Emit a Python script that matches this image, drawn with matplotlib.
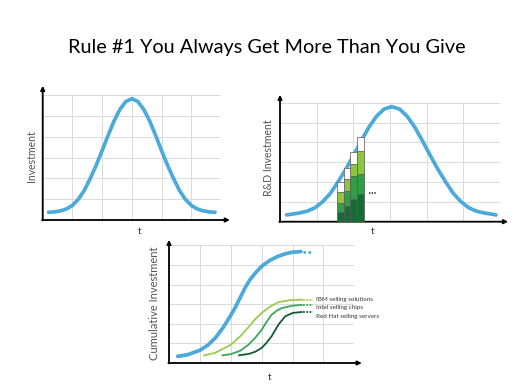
import matplotlib
matplotlib.use("Agg")
import matplotlib.pyplot as plt

W, H = 520, 390

# ---------------- data ----------------
title = "Rule #1 You Always Get More Than You Give"

# Panel 1: investment bell curve
x1 = [0.2, 0.4, 0.6, 0.8, 1.0, 1.2, 1.4, 1.6, 1.8, 2.0, 2.2, 2.4, 2.6, 2.8, 3.0,
      3.2, 3.4, 3.6, 3.8, 4.0, 4.2, 4.4, 4.6, 4.8, 5.0, 5.2, 5.4, 5.6, 5.8]
y1 = [0.37, 0.39, 0.44, 0.53, 0.70, 1.00, 1.42, 2.00, 2.63, 3.33, 4.06, 4.75, 5.31, 5.69, 5.82,
      5.69, 5.31, 4.75, 4.06, 3.33, 2.63, 2.00, 1.42, 1.00, 0.70, 0.53, 0.44, 0.39, 0.37]

# Panel 2: R&D investment bell curve + stacked bars
x2 = [0.18, 0.32, 0.53, 0.74, 0.95, 1.16, 1.37, 1.58, 1.79, 2.00, 2.21, 2.42, 2.63, 2.84, 3.05,
      3.26, 3.47, 3.68, 3.89, 4.10, 4.31, 4.52, 4.73, 4.94, 5.15, 5.36, 5.57, 5.78, 5.89]
y2 = [0.34, 0.38, 0.44, 0.53, 0.70, 1.00, 1.42, 2.00, 2.63, 3.33, 4.06, 4.75, 5.31, 5.68, 5.80,
      5.68, 5.31, 4.75, 4.06, 3.33, 2.63, 2.00, 1.42, 1.00, 0.70, 0.53, 0.44, 0.38, 0.34]
bar_x = [1.65, 1.83, 2.01, 2.19]
seg_dark = [0.50, 0.81, 1.15, 1.40]
seg_mid = [0.42, 0.76, 1.17, 1.01]
seg_light = [0.56, 0.59, 0.59, 1.14]
seg_white = [0.50, 0.55, 0.59, 0.74]
more_x = [2.44, 2.62]
more_y = [1.43, 1.43]

# Panel 3: cumulative investment
x3_total = [0.28, 0.6, 1.0, 1.25, 1.5, 1.75, 2.0, 2.15, 2.3, 2.45, 2.6, 2.8, 3.0, 3.25, 3.5, 3.75, 4.0, 4.27]
y3_total = [0.34, 0.42, 0.65, 0.9, 1.28, 1.8, 2.43, 2.85, 3.32, 3.8, 4.2, 4.6, 4.93, 5.22, 5.42, 5.56, 5.65, 5.68]
x3_ibm = [1.14, 1.5, 2.0, 2.3, 2.57, 2.8, 3.0, 3.25, 3.54, 3.9, 4.29]
y3_ibm = [0.39, 0.52, 0.93, 1.35, 1.82, 2.25, 2.55, 2.85, 3.10, 3.20, 3.23]
x3_intel = [1.73, 2.0, 2.3, 2.57, 2.8, 3.0, 3.15, 3.32, 3.5, 3.65, 4.0, 4.29]
y3_intel = [0.39, 0.45, 0.62, 0.93, 1.30, 1.70, 2.08, 2.46, 2.68, 2.80, 2.92, 2.96]
x3_rh = [2.27, 2.6, 2.8, 3.0, 3.15, 3.32, 3.54, 3.76, 4.0, 4.29]
y3_rh = [0.39, 0.47, 0.58, 0.77, 1.02, 1.36, 1.95, 2.38, 2.55, 2.60]
cont_x = [4.35, 4.67]
labels3 = ["IBM selling solutions", "Intel selling chips", "Red Hat selling servers"]

BLUE = "#42a6da"
BLUE_L = "#8fd0ef"
C_DARK = "#176b35"
C_MID = "#2f9e45"
C_LIGHT = "#8cc63f"
C_IBM = "#9cca4e"
C_INTEL = "#3aa75a"
C_RH = "#135a34"
GRID = "#dadada"

plt.rcParams['font.family'] = ['Lato', 'DejaVu Sans']

fig = plt.figure(figsize=(W / 100, H / 100), dpi=100)
fig.patch.set_facecolor("white")


def px_axes(left, top, right, bottom):
    return fig.add_axes([left / W, 1 - bottom / H, (right - left) / W, (bottom - top) / H])


def style(ax, xa, ya):
    ax.set_xlim(0, 6)
    ax.set_ylim(0, 6)
    ax.set_xticks(range(7))
    ax.set_yticks(range(7))
    ax.grid(True, color=GRID, lw=0.7)
    ax.tick_params(length=0, labelbottom=False, labelleft=False)
    for s in ax.spines.values():
        s.set_visible(False)
    ax.set_axisbelow(True)
    kw = dict(arrowstyle="-|>", color="black", lw=1.3, mutation_scale=6, shrinkA=0, shrinkB=0)
    ax.annotate("", xy=(xa, 0), xytext=(-0.02, 0), arrowprops=kw, annotation_clip=False)
    ax.annotate("", xy=(0, ya), xytext=(0, -0.02), arrowprops=kw, annotation_clip=False)


def curve(ax, x, y, color=BLUE, light=BLUE_L, lw=2.6):
    ax.plot(x, y, color=color, lw=lw, solid_capstyle="round", zorder=4, clip_on=False)
    ax.plot(x, y, color=light, lw=0.7, alpha=0.6, linestyle=(0, (1, 1.6)), zorder=5, clip_on=False)


def ftext(x, y, s, **kw):
    fig.text(x / W, 1 - y / H, s, **kw)


ftext(267, 47, title, ha="center", va="center", fontsize=14.3, color="black")

# Panel 1
ax1 = px_axes(42.7, 95, 221, 220)
style(ax1, 6.3, 6.44)
curve(ax1, x1, y1)
ftext(31, 156, "Investment", rotation=90, ha="center", va="center", fontsize=7.6, color="#555555")
ftext(140, 232, "t", ha="center", va="center", fontsize=7, color="#333333")

# Panel 2
ax2 = px_axes(280, 102.7, 500, 221.7)
style(ax2, 6.22, 6.4)
curve(ax2, x2, y2)
b = [0, 0, 0, 0]
for seg, col in [(seg_dark, C_DARK), (seg_mid, C_MID), (seg_light, C_LIGHT), (seg_white, "white")]:
    ax2.bar(bar_x, seg, width=0.18, bottom=b, color=col, edgecolor="#555555", lw=0.5, zorder=6)
    b = [bi + si for bi, si in zip(b, seg)]
ax2.plot(more_x, more_y, color="#222222", lw=1.2, linestyle=(0, (0.8, 0.8)), zorder=6)
ftext(269, 158, "R&D Investment", rotation=90, ha="center", va="center", fontsize=7.6, color="#555555")
ftext(373, 231, "t", ha="center", va="center", fontsize=7, color="#333333")

# Panel 3
ax3 = px_axes(169, 245.3, 354.4, 363)
style(ax3, 6.24, 6.28)
curve(ax3, x3_total, y3_total)
ax3.plot(cont_x, [y3_total[-1]] * 2, color=BLUE, lw=1.8, linestyle=(0, (1, 1)), zorder=5, clip_on=False)
for xs, ys, col in [(x3_ibm, y3_ibm, C_IBM), (x3_intel, y3_intel, C_INTEL), (x3_rh, y3_rh, C_RH)]:
    ax3.plot(xs, ys, color=col, lw=1.3, zorder=4, clip_on=False)
    ax3.plot(cont_x, [ys[-1]] * 2, color=col, lw=1.3, linestyle=(0, (1, 0.8)), zorder=4, clip_on=False)
label_y = [y3_ibm[-1], y3_intel[-1] - 0.12, y3_rh[-1] - 0.25]
for lab, ly in zip(labels3, label_y):
    ax3.text(4.75, ly, lab, fontsize=4.5, color="#333333", va="center", ha="left", clip_on=False)
ftext(154, 303, "Cumulative Investment", rotation=90, ha="center", va="center", fontsize=8, color="#555555")
ftext(270, 377, "t", ha="center", va="center", fontsize=7, color="#333333")

fig.savefig("out.png", dpi=100, facecolor="white")
